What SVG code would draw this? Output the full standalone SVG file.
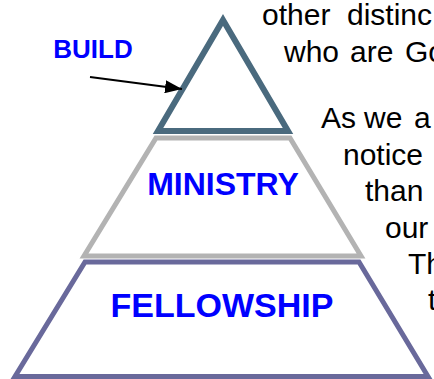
<svg xmlns="http://www.w3.org/2000/svg" width="434" height="379" viewBox="0 0 434 379">
<style>
.body{font-family:"Liberation Sans",Arial,sans-serif;font-size:30px;fill:#000}
.lbl{font-family:"Liberation Sans",Arial,sans-serif;font-weight:bold;fill:#0000ff;text-anchor:middle}
.tier{fill:#fff;stroke-linejoin:miter}
</style>
<defs>
<marker id="ah" viewBox="0 0 10 10" refX="10" refY="5" markerWidth="17" markerHeight="13" markerUnits="userSpaceOnUse" orient="auto" preserveAspectRatio="none">
<path d="M0,0 L10,5 L0,10 z" fill="#000"/>
</marker>
</defs>
<rect width="434" height="379" fill="#fff"/>
<g id="text-body" class="body">
<text x="262" y="25">other <tspan x="347">distinc</tspan></text>
<text x="284" y="62">who <tspan x="350">are</tspan> <tspan x="405">Go</tspan></text>
<text x="321" y="128">As <tspan x="364">we</tspan> <tspan x="414">a</tspan></text>
<text x="343" y="165">notice</text>
<text x="365" y="201">than</text>
<text x="385" y="238">our</text>
<text x="408" y="274">Th</text>
<text x="428" y="310">t</text>
</g>
<g id="fellowship">
<polygon class="tier" points="85,262 359,262 428,376.5 15,376.5" stroke="#69699b" stroke-width="5"/>
<text class="lbl" x="222" y="317" font-size="34">FELLOWSHIP</text>
</g>
<g id="ministry">
<polygon class="tier" points="156,138 290,138 361,256 84,256" stroke="#b3b3b3" stroke-width="5"/>
<text class="lbl" x="223" y="195" font-size="32">MINISTRY</text>
</g>
<g id="build">
<polygon class="tier" points="223,20 288,131 158,131" stroke="#4a6a7e" stroke-width="6"/>
<text class="lbl" x="93" y="58" font-size="26">BUILD</text>
</g>
<g id="connectors">
<line x1="90" y1="77" x2="182" y2="89" stroke="#000" stroke-width="2" marker-end="url(#ah)"/>
</g>
</svg>
